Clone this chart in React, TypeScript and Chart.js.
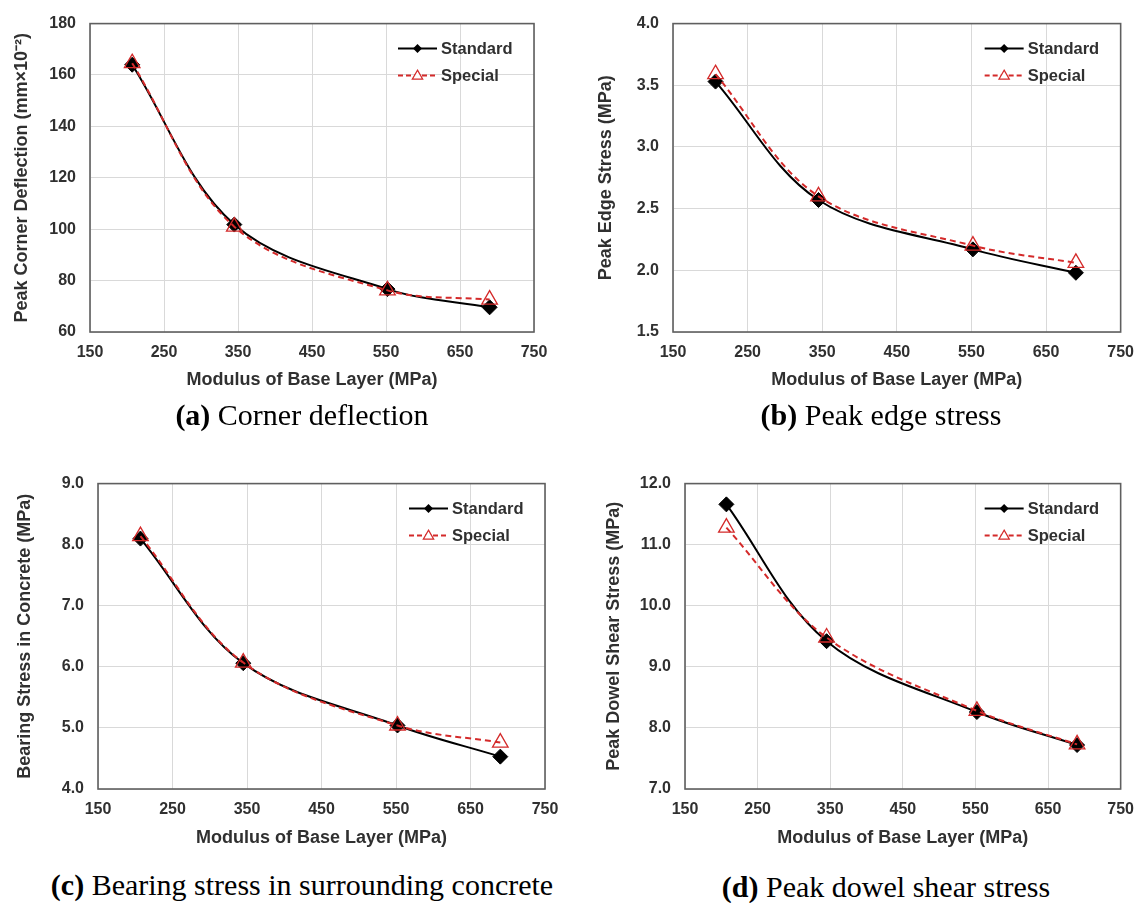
import React, { useEffect, useRef } from "react";
import { Chart, registerables } from "chart.js";

Chart.register(...registerables);

// ---------- data ----------
const modulusMPa = [207, 345, 552, 690];
const xTickValues = [150, 250, 350, 450, 550, 650, 750];
const seriesNames = ["Standard", "Special"];
const xAxisTitle = "Modulus of Base Layer (MPa)";

const cornerDeflectionStandard = [164.0, 101.8, 76.7, 69.6];
const cornerDeflectionSpecial = [164.6, 101.0, 76.2, 72.6];

const edgeStressStandard = [3.53, 2.57, 2.17, 1.98];
const edgeStressSpecial = [3.59, 2.6, 2.2, 2.06];

const bearingStressStandard = [8.1, 6.06, 5.04, 4.53];
const bearingStressSpecial = [8.14, 6.07, 5.04, 4.76];

const dowelShearStandard = [11.66, 9.42, 8.26, 7.72];
const dowelShearSpecial = [11.28, 9.48, 8.28, 7.73];

const yTitles = [
  "Peak Corner Deflection (mm×10⁻²)",
  "Peak Edge Stress (MPa)",
  "Bearing Stress in Concrete (MPa)",
  "Peak Dowel Shear Stress (MPa)",
];
const yRanges = [
  [60, 180, 20, 0],
  [1.5, 4.0, 0.5, 1],
  [4.0, 9.0, 1.0, 1],
  [7.0, 12.0, 1.0, 1],
];
const captionLetters = ["(a)", "(b)", "(c)", "(d)"];
const captionTexts = [
  "Corner deflection",
  "Peak edge stress",
  "Bearing stress in surrounding concrete",
  "Peak dowel shear stress",
];

// ---------- styles ----------
const RED = "#d42a2a";
const BLACK = "#000000";
const GRID = "#d9d9d9";
const FRAME = "#5f5f5f";
const TXT = "#303030";
const SANS = "'Liberation Sans', Arial, Helvetica, sans-serif";
const SERIF = "'Liberation Serif', 'Times New Roman', Times, serif";

type Layout = {
  left: number;
  top: number;
  width: number;
  height: number;
  yWidth: number;
  yTitlePad: number;
  padTop: number;
  padRight: number;
  xHeight: number;
  xTitlePad: number;
  capX: number;
  capY: number;
};

const layouts: Layout[] = [
  { left: 0, top: 0, width: 580, height: 400, yWidth: 90, yTitlePad: 11, padTop: 16, padRight: 46, xHeight: 68, xTitlePad: 9, capX: 302, capY: 415 },
  { left: 580, top: 0, width: 565, height: 400, yWidth: 93, yTitlePad: 15, padTop: 16, padRight: 20, xHeight: 68, xTitlePad: 9, capX: 881, capY: 415 },
  { left: 0, top: 460, width: 580, height: 400, yWidth: 98, yTitlePad: 14, padTop: 17, padRight: 35, xHeight: 71, xTitlePad: 11, capX: 302, capY: 885 },
  { left: 580, top: 460, width: 565, height: 400, yWidth: 105, yTitlePad: 23, padTop: 18, padRight: 21, xHeight: 71, xTitlePad: 11, capX: 886, capY: 887 },
];

const standardSeries = [cornerDeflectionStandard, edgeStressStandard, bearingStressStandard, dowelShearStandard];
const specialSeries = [cornerDeflectionSpecial, edgeStressSpecial, bearingStressSpecial, dowelShearSpecial];

// ---------- plugins ----------
const framePlugin = {
  id: "frameBox",
  beforeDatasetsDraw(chart: any) {
    const { ctx, chartArea } = chart;
    ctx.save();
    ctx.strokeStyle = FRAME;
    ctx.lineWidth = 1.6;
    ctx.strokeRect(chartArea.left, chartArea.top, chartArea.right - chartArea.left, chartArea.bottom - chartArea.top);
    ctx.restore();
  },
};

function drawDiamond(ctx: CanvasRenderingContext2D, x: number, y: number, r: number, color: string) {
  ctx.beginPath();
  ctx.moveTo(x - r, y);
  ctx.lineTo(x, y - r);
  ctx.lineTo(x + r, y);
  ctx.lineTo(x, y + r);
  ctx.closePath();
  ctx.fillStyle = color;
  ctx.fill();
}

function drawTriangle(ctx: CanvasRenderingContext2D, x: number, y: number, r: number, color: string) {
  ctx.beginPath();
  ctx.moveTo(x, y - r);
  ctx.lineTo(x + r * 0.866, y + r * 0.5);
  ctx.lineTo(x - r * 0.866, y + r * 0.5);
  ctx.closePath();
  ctx.fillStyle = "#ffffff";
  ctx.fill();
  ctx.strokeStyle = color;
  ctx.lineWidth = 1.2;
  ctx.setLineDash([]);
  ctx.stroke();
}

const legendPlugin = {
  id: "insideLegend",
  afterDraw(chart: any) {
    const { ctx, chartArea } = chart;
    const x0 = chartArea.right - 136;
    const lineLen = 39;
    const textX = x0 + lineLen + 4;
    const rows = [
      { name: seriesNames[0], y: chartArea.top + 25, color: BLACK, dash: [] as number[], marker: "diamond" },
      { name: seriesNames[1], y: chartArea.top + 52, color: RED, dash: [5, 3], marker: "triangle" },
    ];
    ctx.save();
    rows.forEach((r) => {
      ctx.strokeStyle = r.color;
      ctx.lineWidth = 2;
      ctx.setLineDash(r.dash);
      ctx.beginPath();
      ctx.moveTo(x0, r.y);
      ctx.lineTo(x0 + lineLen, r.y);
      ctx.stroke();
      ctx.setLineDash([]);
      if (r.marker === "diamond") drawDiamond(ctx, x0 + lineLen / 2, r.y, 4.5, r.color);
      else drawTriangle(ctx, x0 + lineLen / 2, r.y + 0.5, 6, r.color);
      ctx.fillStyle = TXT;
      ctx.font = `bold 16.5px ${SANS}`;
      ctx.textAlign = "left";
      ctx.textBaseline = "middle";
      ctx.fillText(r.name, textX, r.y + 1);
    });
    ctx.restore();
  },
};

// ---------- panel ----------
function Panel({ index }: { index: number }) {
  const ref = useRef<HTMLCanvasElement | null>(null);
  const L = layouts[index];
  useEffect(() => {
    if (!ref.current) return;
    const [yMin, yMax, yStep, decimals] = yRanges[index];
    const std = standardSeries[index];
    const spc = specialSeries[index];
    const tickFont = { family: SANS, size: 16, weight: "bold" as const };
    const titleFont = { family: SANS, size: 18, weight: "bold" as const };
    const chart = new Chart(ref.current, {
      type: "line",
      data: {
        datasets: [
          {
            label: seriesNames[1],
            data: modulusMPa.map((x, i) => ({ x, y: spc[i] })),
            borderColor: RED,
            borderWidth: 2,
            borderDash: [6, 4],
            tension: 0.35,
            fill: false,
            pointStyle: "triangle",
            pointRadius: 9,
            pointBorderColor: RED,
            pointBackgroundColor: "rgba(255,255,255,0)",
            pointBorderWidth: 1.3,
            order: 0,
          },
          {
            label: seriesNames[0],
            data: modulusMPa.map((x, i) => ({ x, y: std[i] })),
            borderColor: BLACK,
            borderWidth: 2,
            tension: 0.35,
            fill: false,
            pointStyle: "rectRot",
            pointRadius: 7.5,
            pointBorderColor: BLACK,
            pointBackgroundColor: BLACK,
            pointBorderWidth: 1,
            order: 1,
          },
        ],
      },
      options: {
        responsive: false,
        animation: false,
        devicePixelRatio: 1,
        layout: { padding: { left: 0, top: L.padTop, right: L.padRight, bottom: 0 } },
        plugins: { legend: { display: false }, tooltip: { enabled: false } },
        scales: {
          x: {
            type: "linear",
            min: 150,
            max: 750,
            afterBuildTicks: (s: any) => {
              s.ticks = xTickValues.map((v) => ({ value: v }));
            },
            afterFit: (s: any) => {
              s.height = L.xHeight;
            },
            grid: { color: GRID, lineWidth: 1, drawTicks: false },
            border: { display: false },
            ticks: { padding: 11, color: TXT, font: tickFont, maxRotation: 0, autoSkip: false },
            title: { display: true, text: xAxisTitle, color: TXT, font: titleFont, padding: { top: 0, bottom: L.xTitlePad } },
          },
          y: {
            type: "linear",
            min: yMin,
            max: yMax,
            afterFit: (s: any) => {
              s.width = L.yWidth;
            },
            grid: { color: GRID, lineWidth: 1, drawTicks: false },
            border: { display: false },
            ticks: {
              stepSize: yStep,
              padding: 14,
              color: TXT,
              font: tickFont,
              callback: (v: any) => Number(v).toFixed(decimals),
            },
            title: { display: true, text: yTitles[index], color: TXT, font: titleFont, padding: { top: L.yTitlePad, bottom: 0 } },
          },
        },
      },
      plugins: [framePlugin, legendPlugin],
    } as any);
    return () => chart.destroy();
  }, []);
  return (
    <div style={{ position: "absolute", left: L.left, top: L.top, width: L.width, height: L.height }}>
      <canvas ref={ref} width={L.width} height={L.height} style={{ width: L.width, height: L.height, display: "block" }} />
    </div>
  );
}

function Caption({ index }: { index: number }) {
  const L = layouts[index];
  return (
    <div
      style={{
        position: "absolute",
        left: L.capX - 300,
        top: L.capY - 18,
        width: 600,
        textAlign: "center",
        fontFamily: SERIF,
        fontSize: 30,
        lineHeight: "36px",
        color: "#000",
        whiteSpace: "nowrap",
      }}
    >
      <b>{captionLetters[index]}</b> {captionTexts[index]}
    </div>
  );
}

export default function App() {
  return (
    <div style={{ position: "absolute", left: 0, top: 0, width: 1145, height: 903, background: "#fff", overflow: "hidden" }}>
      {[0, 1, 2, 3].map((i) => (
        <Panel key={"p" + i} index={i} />
      ))}
      {[0, 1, 2, 3].map((i) => (
        <Caption key={"c" + i} index={i} />
      ))}
    </div>
  );
}
